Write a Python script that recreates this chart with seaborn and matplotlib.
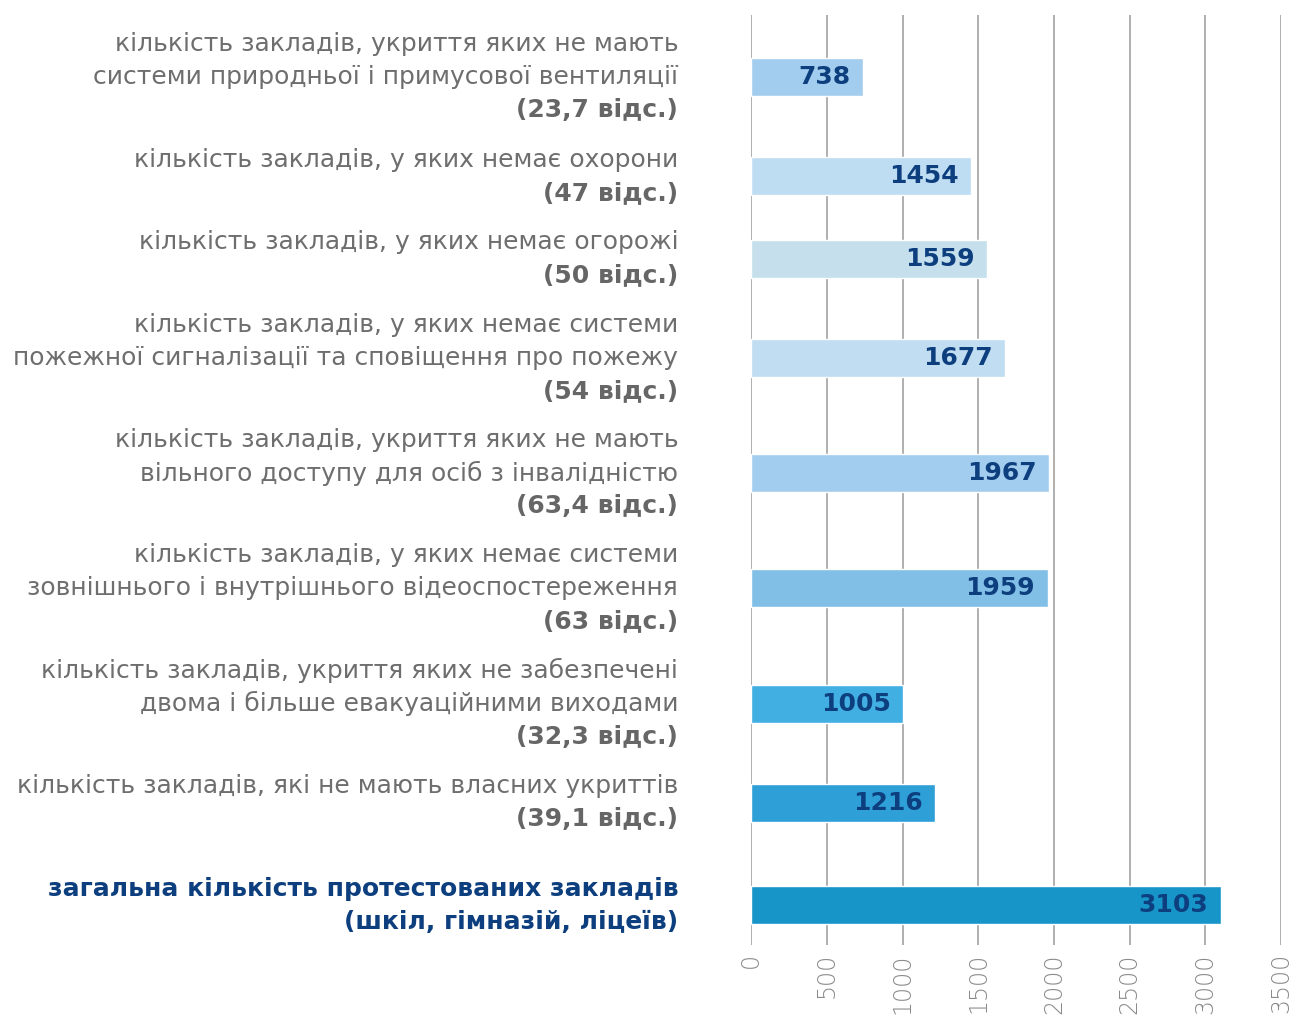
import pandas as pd
import matplotlib
matplotlib.use('Agg')
import matplotlib.pyplot as plt
import seaborn as sns

sns.set_style('white')
plt.rcParams['font.family'] = ['DejaVu Sans']

# дані
label_lines = [
    ["кількість закладів, укриття яких не мають", "системи природньої і примусової вентиляції"],
    ["кількість закладів, у яких немає охорони"],
    ["кількість закладів, у яких немає огорожі"],
    ["кількість закладів, у яких немає системи", "пожежної сигналізації та сповіщення про пожежу"],
    ["кількість закладів, укриття яких не мають", "вільного доступу для осіб з інвалідністю"],
    ["кількість закладів, у яких немає системи", "зовнішнього і внутрішнього відеоспостереження"],
    ["кількість закладів, укриття яких не забезпечені", "двома і більше евакуаційними виходами"],
    ["кількість закладів, які не мають власних укриттів"],
    ["загальна кількість протестованих закладів", "(шкіл, гімназій, ліцеїв)"],
]
percent_labels = ["(23,7 відс.)", "(47 відс.)", "(50 відс.)", "(54 відс.)", "(63,4 відс.)",
                  "(63 відс.)", "(32,3 відс.)", "(39,1 відс.)", None]
values = [738, 1454, 1559, 1677, 1967, 1959, 1005, 1216, 3103]
x_ticks = [0, 500, 1000, 1500, 2000, 2500, 3000, 3500]

bar_colors = ['#A3CDEE', '#BFDDF2', '#C5E0EC', '#C0DDF2', '#A3CDEE',
              '#82BFE6', '#42AFE3', '#2F9FD8', '#1795C8']
navy = '#0D3F7F'
gray = '#6E6E6E'

# рядки підписів: визначають відстань між стовпцями (як у макеті)
all_labels = []
for lines, pct in zip(label_lines, percent_labels):
    all_labels.append(list(lines) + ([pct] if pct else []))
n_lines = [len(l) for l in all_labels]

line_h = 33      # висота рядка, px
gap = 16.5
pos = [0.0]
for i in range(1, len(n_lines)):
    step = line_h * (n_lines[i - 1] + n_lines[i]) / 2 + gap
    if i == len(n_lines) - 1:
        step += 20   # окремий відступ для загальної кількості
    pos.append(pos[-1] + step)

df = pd.DataFrame({'cat': [str(i) for i in range(len(values))],
                   'value': values, 'pos': pos})

fig = plt.figure(figsize=(12.93, 10.17), dpi=100)
ax = fig.add_axes([0.581, 0.071, 0.4097, 0.914])

sns.barplot(data=df, x='value', y='pos', hue='cat', palette=bar_colors,
            legend=False, width=38 / 82.5, orient='h', native_scale=True,
            ax=ax, saturation=1)

ax.set_xlim(0, 3500)
ax.set_ylim(868, -62)
ax.set_xticks(x_ticks)
ax.set_xticklabels([str(t) for t in x_ticks], rotation=90, fontsize=17,
                   color='#8A8A8A', fontweight='light')
ax.tick_params(axis='x', length=0, pad=6)
ax.set_yticks([])
ax.set_xlabel('')
ax.set_ylabel('')
for s in ax.spines.values():
    s.set_visible(False)

ax.grid(axis='x', color='#9A9A9A', linewidth=1.1)
ax.set_axisbelow(True)

# значення всередині стовпців
for v, p in zip(values, pos):
    ax.annotate(str(v), xy=(v, p), xytext=(-9, 0), textcoords='offset points',
                ha='right', va='center', fontsize=18, fontweight='bold', color=navy)

# підписи категорій
trans = ax.get_yaxis_transform()
line_step = 23.8
last = len(values) - 1
for i, lines in enumerate(all_labels):
    n = len(lines)
    for k, txt in enumerate(lines):
        off = ((n - 1) / 2 - k) * line_step
        if i == last:
            weight, col = 'bold', navy
        elif percent_labels[i] is not None and k == n - 1:
            weight, col = 'bold', '#666666'
        else:
            weight, col = 'normal', gray
        ax.annotate(txt, xy=(-0.138, pos[i]), xycoords=trans, xytext=(0, off),
                    textcoords='offset points', ha='right', va='center',
                    fontsize=18, fontweight=weight, color=col,
                    annotation_clip=False)

plt.savefig('out.png', dpi=100, facecolor='white')
